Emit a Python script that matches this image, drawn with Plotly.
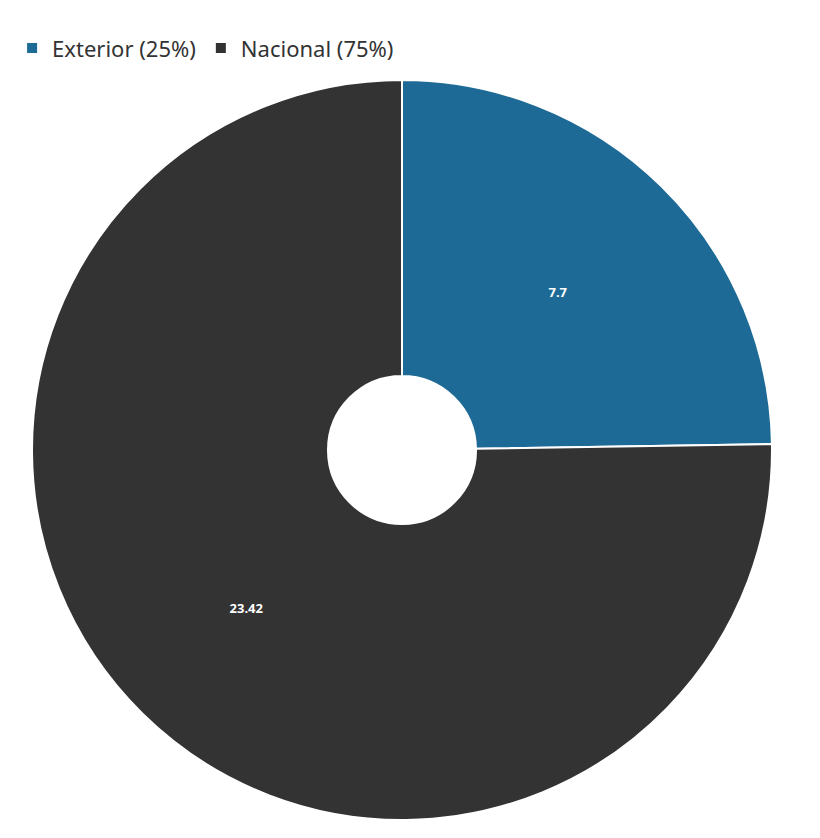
import plotly.graph_objects as go

categories = ["Exterior", "Nacional"]
values = [7.7, 23.42]
legend_labels = ["Exterior (25%)", "Nacional (75%)"]
colors = ["#1e6a96", "#333333"]

fig = go.Figure(go.Pie(
    labels=legend_labels,
    values=values,
    text=[str(v) for v in values],
    textinfo="text",
    textposition="inside",
    insidetextorientation="horizontal",
    textfont=dict(family="Noto Sans", size=13, color="white", weight="bold"),
    marker=dict(colors=colors, line=dict(color="white", width=2)),
    hole=0.2,
    sort=False,
    direction="clockwise",
    rotation=0,
    domain=dict(x=[24/820, 764/820], y=[26/838, 766/838]),
))

fig.update_layout(
    width=820, height=838,
    margin=dict(l=0, r=0, t=0, b=0),
    paper_bgcolor="white",
    showlegend=True,
    legend=dict(orientation="h", x=0.005, y=0.977, yanchor="top", xanchor="left",
                font=dict(family="Noto Sans", size=22, color="#333333"),
                itemwidth=30, traceorder="normal"),
)

fig.write_html("out.html")
